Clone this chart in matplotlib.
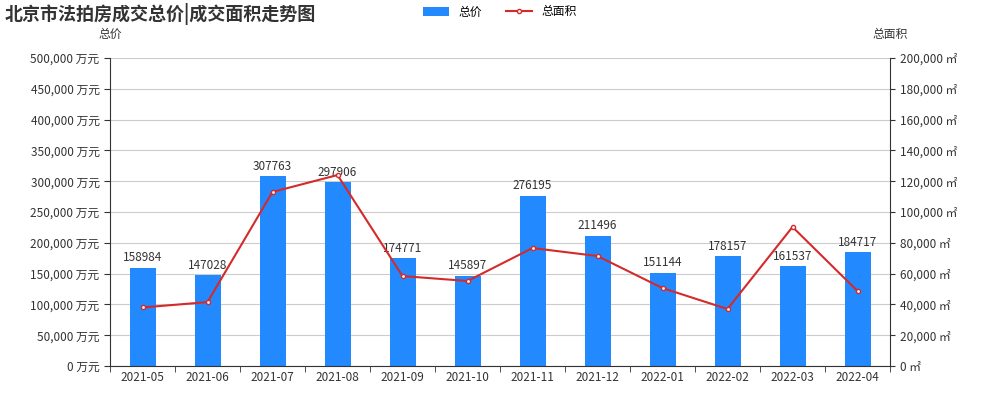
import matplotlib
matplotlib.use("Agg")
import matplotlib.pyplot as plt
from matplotlib.ticker import FuncFormatter
plt.rcParams['font.family'] = ['Noto Sans CJK SC', 'DejaVu Sans']

months = ["2021-05","2021-06","2021-07","2021-08","2021-09","2021-10","2021-11","2021-12","2022-01","2022-02","2022-03","2022-04"]
total_price = [158984,147028,307763,297906,174771,145897,276195,211496,151144,178157,161537,184717]
total_area = [38000,41500,113000,124000,58400,55200,76600,71400,50600,37000,90300,48700]

fig = plt.figure(figsize=(10,4), dpi=100)
ax = fig.add_axes([0.11, 0.085, 0.78, 0.77])
x = range(len(months))
ax.bar(x, total_price, width=0.4, color='#2389ff', label='总价', zorder=2)
for i, v in zip(x, total_price):
    ax.text(i, v + 6000, str(v), ha='center', va='bottom', fontsize=8.5, color='#333')
ax.set_ylim(0, 500000)
ax.set_yticks(range(0, 500001, 50000))
ax.yaxis.set_major_formatter(FuncFormatter(lambda v, p: f"{int(v):,} 万元"))
ax.grid(axis='y', color='#ccc', linewidth=0.8, zorder=0)
ax.set_xlim(-0.5, len(months)-0.5)
ax.set_xticks(list(x))
ax.set_xticklabels(months)
ax.set_xticks([i-0.5 for i in range(len(months)+1)], minor=True)
ax.tick_params(axis='x', which='major', length=0)
ax.tick_params(axis='x', which='minor', length=4, color='#333')
ax.tick_params(labelsize=8.5, colors='#333')
for s in ['top','right']:
    ax.spines[s].set_visible(False)
ax.spines['left'].set_visible(False)
ax.spines['bottom'].set_color('#333')

ax2 = ax.twinx()
ax2.plot(list(x), total_area, color='#d42a2a', linewidth=1.5, marker='o', markersize=3,
         markerfacecolor='white', markeredgecolor='#d42a2a', label='总面积', zorder=3)
ax2.set_ylim(0, 200000)
ax2.set_yticks(range(0, 200001, 20000))
ax2.yaxis.set_major_formatter(FuncFormatter(lambda v, p: f"{int(v):,} ㎡"))
ax2.tick_params(labelsize=8.5, colors='#333')
for s in ['top','left','bottom']:
    ax2.spines[s].set_visible(False)
ax2.spines['right'].set_color('#333')
ax.tick_params(axis='y', length=4, color='#333')
ax.spines['left'].set_visible(True)
ax.spines['left'].set_color('#333')

fig.text(0.005, 0.965, "北京市法拍房成交总价|成交面积走势图", fontsize=13, fontweight='bold', color='#333', va='center')
fig.text(0.11, 0.905, "总价", fontsize=8.5, color='#333', ha='center')
fig.text(0.89, 0.905, "总面积", fontsize=8.5, color='#333', ha='center')
h1, l1 = ax.get_legend_handles_labels()
h2, l2 = ax2.get_legend_handles_labels()
fig.legend(h1+h2, l1+l2, loc='center', bbox_to_anchor=(0.5, 0.97), ncol=2, frameon=False, fontsize=8.5, handlelength=2.2)
fig.savefig("out.png")
